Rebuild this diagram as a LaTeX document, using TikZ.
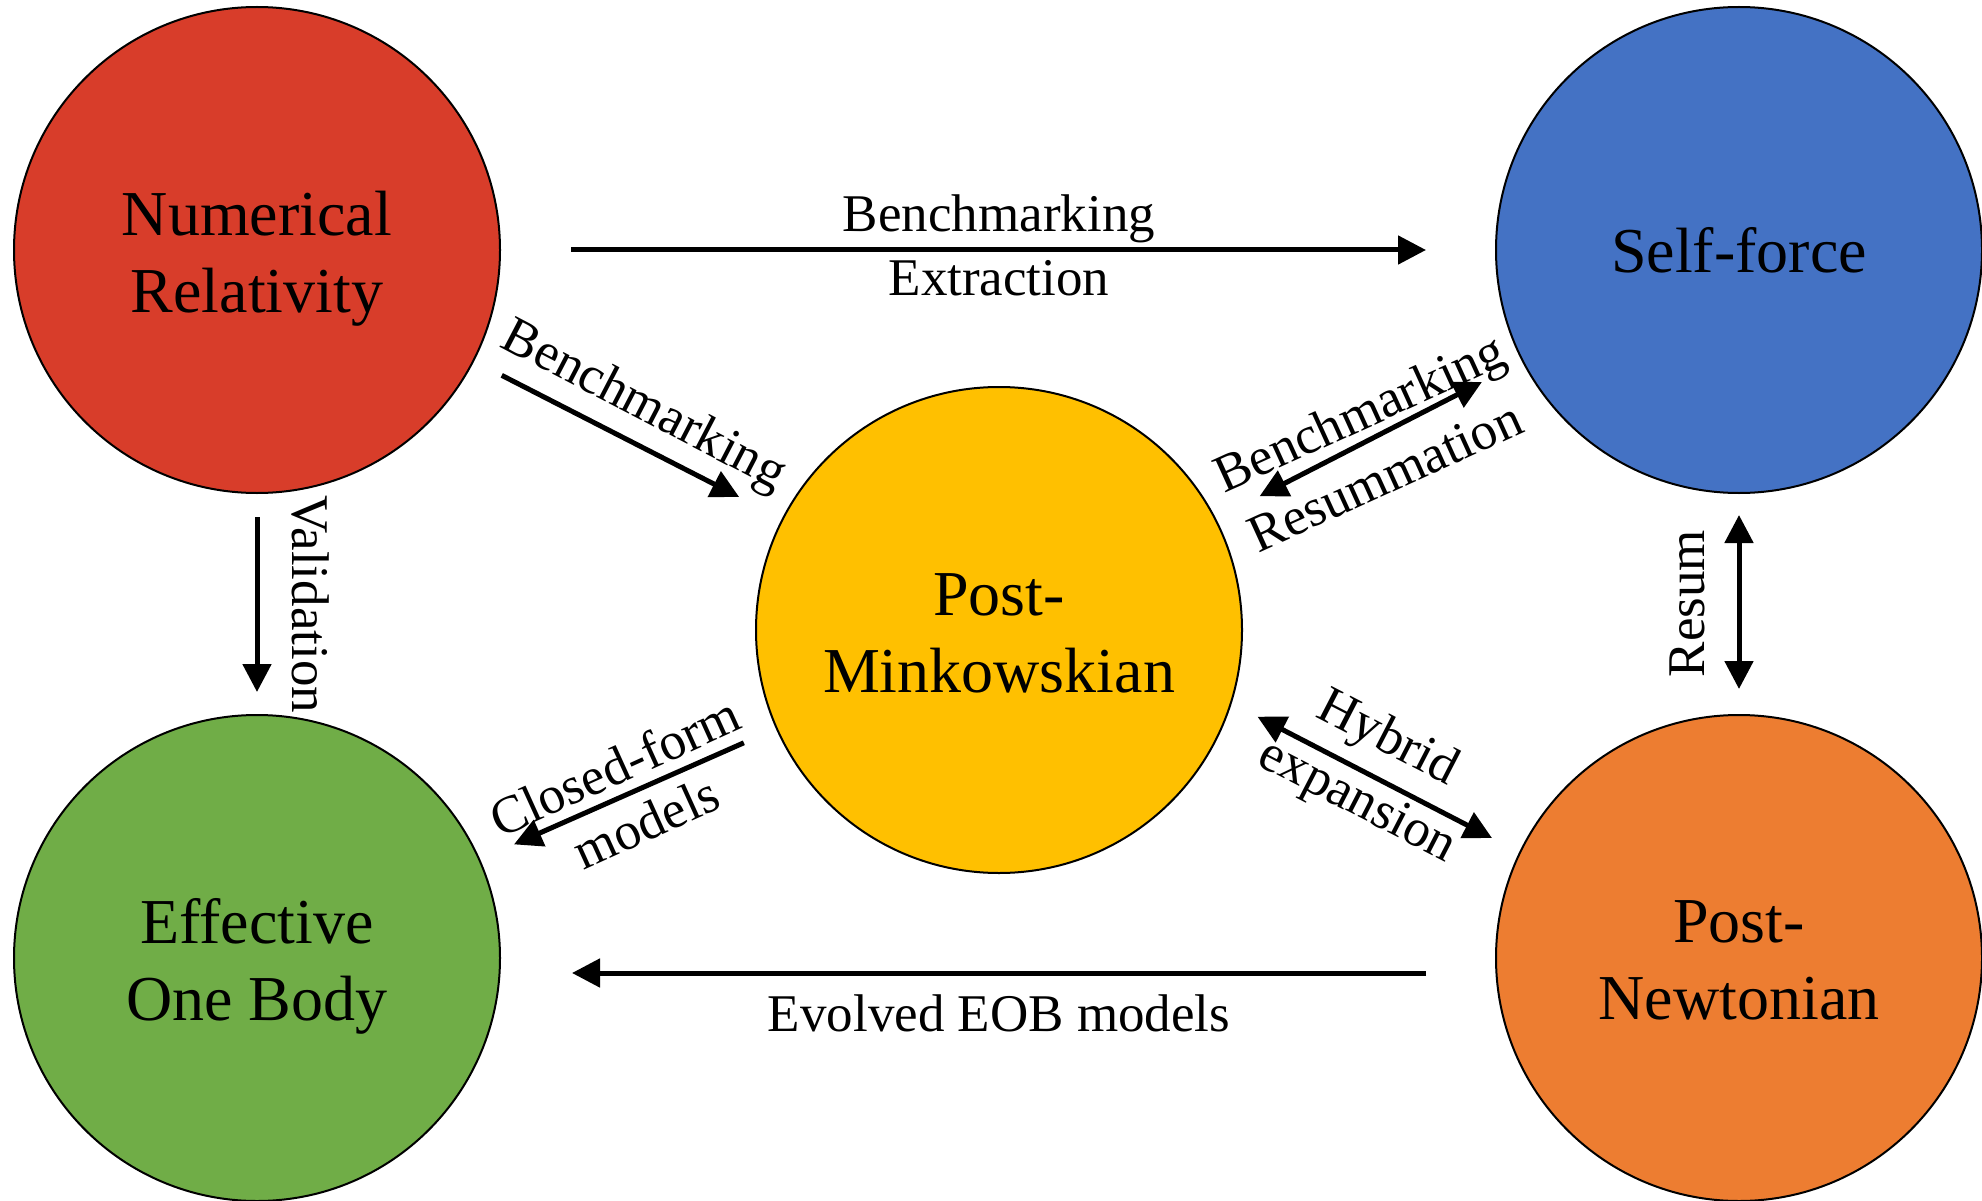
\documentclass[tikz,border=0pt]{standalone}
\usepackage{fontspec}
\setmainfont{Liberation Serif}
\usetikzlibrary{arrows.meta}
\definecolor{nrred}{RGB}{216,61,42}
\definecolor{sfblue}{RGB}{68,114,196}
\definecolor{pmgold}{RGB}{255,192,0}
\definecolor{eobgreen}{RGB}{112,173,71}
\definecolor{pnorange}{RGB}{237,125,49}
\begin{document}
\begin{tikzpicture}[x=1pt,y=-1pt,
  circ/.style={circle,draw=black,line width=2pt,minimum size=486pt,inner sep=0pt,outer sep=0pt},
  ctext/.style={align=center,font=\fontsize{64}{77}\selectfont,inner sep=0pt},
  lbl/.style={font=\fontsize{53}{64}\selectfont,inner sep=0pt},
  conn/.style={line width=5pt,-{Triangle[length=28pt,width=28pt]}},
  bconn/.style={line width=5pt,{Triangle[length=28pt,width=28pt]}-{Triangle[length=28pt,width=28pt]}}]
\useasboundingbox (0,0) rectangle (1982,1201);
% circles
\node[circ,fill=nrred] (nr) at (257,250) {};
\node[circ,fill=sfblue] (sf) at (1739,250) {};
\node[circ,fill=pmgold] (pm) at (999,630) {};
\node[circ,fill=eobgreen] (eob) at (257,958) {};
\node[circ,fill=pnorange] (pn) at (1739,958) {};
% circle texts
\node[ctext] (nrt) at (257,259) {Numerical\\Relativity};
\node[ctext] (sft) at (1739,250) {Self-force};
\node[ctext] (pmt) at (999,633) {Post-\\Minkowskian};
\node[ctext] (eobt) at (257,966) {Effective\\One Body};
\node[ctext] (pnt) at (1739,960) {Post-\\Newtonian};
% free-end coordinates
\coordinate (hpm) at (1257.5,716.7);
\coordinate (hpn) at (1492,838);
\coordinate (epn) at (1426,973);
\coordinate (eeob) at (572,973);
% connectors
\draw[conn,shorten <=71pt,shorten >=70pt] (nr) -- (sf);
\draw[conn,shorten <=32pt,shorten >=49pt] (nr) -- (pm);
\draw[conn,shorten <=24pt,shorten >=23pt] (nr) -- (eob);
\draw[conn,shorten <=36pt,shorten >=38pt] (pm) -- (eob);
\draw[bconn,shorten <=50pt,shorten >=46pt] (pm) -- (sf);
\draw[bconn,shorten <=22pt,shorten >=26pt] (sf) -- (pn);
\draw[bconn] (hpm) -- (hpn);
\draw[conn] (epn) -- (eeob);
% connector labels
\node[lbl] (l1a) at (999,218.5) {Benchmarking};
\node[lbl] (l1b) at (999,278) {Extraction};
\node[lbl,rotate=-27.5] (l2) at (643,407) {Benchmarking};
\node[lbl,rotate=-90] (l3) at (310,604) {Validation};
\node[lbl,rotate=24.4] (l4a) at (614.5,766.5) {Closed-form};
\node[lbl,rotate=24.4] (l4b) at (646,822) {models};
\node[lbl,rotate=24.5] (l5a) at (1361.5,417) {Benchmarking};
\node[lbl,rotate=24.5] (l5b) at (1385,476.5) {Resummation};
\node[lbl,rotate=90] (l6) at (1687,603.5) {Resum};
\node[lbl,rotate=-27.3] (l7a) at (1387,739.6) {Hybrid};
\node[lbl,rotate=-27.3] (l7b) at (1356.5,802.8) {expansion};
\node[lbl] (l8) at (999,1013) {Evolved EOB models};
\end{tikzpicture}
\end{document}
